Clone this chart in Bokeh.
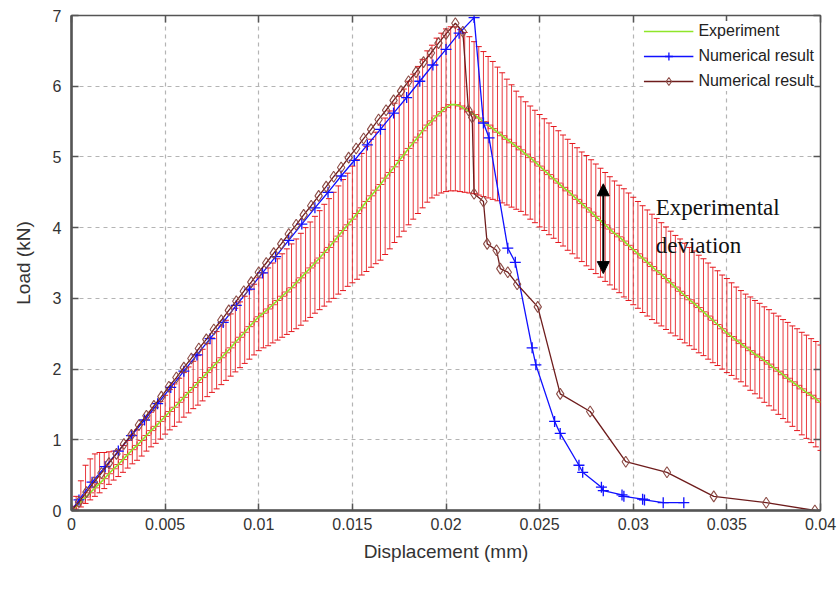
from bokeh.plotting import figure
from bokeh.models import (ColumnDataSource, Whisker, TeeHead, Arrow, NormalHead, Label,
                          LinearAxis, FixedTicker, Legend, LegendItem, Range1d)
from bokeh.embed import file_html
from bokeh.resources import INLINE

# ---------------- data ----------------
exp_x = [
    0.0, 0.00025, 0.0005, 0.00075, 0.001, 0.00125, 0.0015, 0.00175, 0.002, 0.00225,
    0.0025, 0.00275, 0.003, 0.00325, 0.0035, 0.00375, 0.004, 0.00425, 0.0045, 0.00475,
    0.005, 0.00525, 0.0055, 0.00575, 0.006, 0.00625, 0.0065, 0.00675, 0.007, 0.00725,
    0.0075, 0.00775, 0.008, 0.00825, 0.0085, 0.00875, 0.009, 0.00925, 0.0095, 0.00975,
    0.01, 0.01025, 0.0105, 0.01075, 0.011, 0.01125, 0.0115, 0.01175, 0.012, 0.01225,
    0.0125, 0.01275, 0.013, 0.01325, 0.0135, 0.01375, 0.014, 0.01425, 0.0145, 0.01475,
    0.015, 0.01525, 0.0155, 0.01575, 0.016, 0.01625, 0.0165, 0.01675, 0.017, 0.01725,
    0.0175, 0.01775, 0.018, 0.01825, 0.0185, 0.01875, 0.019, 0.01925, 0.0195, 0.01975,
    0.02, 0.02025, 0.0205, 0.02075, 0.021, 0.02125, 0.0215, 0.02175, 0.022, 0.02225,
    0.0225, 0.02275, 0.023, 0.02325, 0.0235, 0.02375, 0.024, 0.02425, 0.0245, 0.02475,
    0.025, 0.02525, 0.0255, 0.02575, 0.026, 0.02625, 0.0265, 0.02675, 0.027, 0.02725,
    0.0275, 0.02775, 0.028, 0.02825, 0.0285, 0.02875, 0.029, 0.02925, 0.0295, 0.02975,
    0.03, 0.03025, 0.0305, 0.03075, 0.031, 0.03125, 0.0315, 0.03175, 0.032, 0.03225,
    0.0325, 0.03275, 0.033, 0.03325, 0.0335, 0.03375, 0.034, 0.03425, 0.0345, 0.03475,
    0.035, 0.03525, 0.0355, 0.03575, 0.036, 0.03625, 0.0365, 0.03675, 0.037, 0.03725,
    0.0375, 0.03775, 0.038, 0.03825, 0.0385, 0.03875, 0.039, 0.03925, 0.0395, 0.03975,
    0.04,
]
exp_mean = [
    0.00, 0.06, 0.12, 0.19, 0.25, 0.32, 0.38, 0.45, 0.52, 0.59,
    0.65, 0.72, 0.79, 0.86, 0.92, 0.99, 1.06, 1.13, 1.19, 1.26,
    1.33, 1.40, 1.46, 1.53, 1.60, 1.67, 1.74, 1.81, 1.88, 1.95,
    2.02, 2.09, 2.16, 2.23, 2.30, 2.38, 2.45, 2.52, 2.60, 2.67,
    2.74, 2.79, 2.85, 2.91, 2.97, 3.03, 3.09, 3.15, 3.22, 3.29,
    3.36, 3.43, 3.50, 3.57, 3.65, 3.72, 3.80, 3.88, 3.96, 4.04,
    4.12, 4.20, 4.28, 4.37, 4.45, 4.53, 4.61, 4.70, 4.78, 4.86,
    4.95, 5.03, 5.12, 5.20, 5.28, 5.37, 5.45, 5.51, 5.58, 5.64,
    5.70, 5.74, 5.74, 5.72, 5.68, 5.64, 5.60, 5.55, 5.50, 5.45,
    5.40, 5.35, 5.30, 5.25, 5.20, 5.15, 5.10, 5.04, 4.99, 4.93,
    4.87, 4.81, 4.75, 4.69, 4.63, 4.57, 4.52, 4.46, 4.40, 4.34,
    4.28, 4.22, 4.16, 4.10, 4.04, 3.98, 3.92, 3.87, 3.81, 3.75,
    3.69, 3.63, 3.57, 3.51, 3.45, 3.39, 3.34, 3.28, 3.22, 3.16,
    3.10, 3.04, 2.98, 2.93, 2.87, 2.81, 2.75, 2.69, 2.63, 2.57,
    2.51, 2.46, 2.41, 2.36, 2.31, 2.26, 2.21, 2.17, 2.12, 2.07,
    2.02, 1.97, 1.92, 1.87, 1.82, 1.77, 1.72, 1.67, 1.63, 1.58,
    1.53,
]
exp_upper = [
    0.05, 0.20, 0.42, 0.64, 0.73, 0.80, 0.82, 0.82, 0.83, 0.84,
    0.85, 0.92, 0.99, 1.07, 1.14, 1.22, 1.31, 1.39, 1.46, 1.54,
    1.63, 1.71, 1.79, 1.87, 1.95, 2.03, 2.11, 2.19, 2.28, 2.36,
    2.44, 2.53, 2.61, 2.69, 2.78, 2.86, 2.95, 3.03, 3.12, 3.20,
    3.29, 3.36, 3.43, 3.50, 3.56, 3.63, 3.70, 3.77, 3.84, 3.92,
    4.00, 4.08, 4.16, 4.24, 4.33, 4.41, 4.50, 4.59, 4.68, 4.77,
    4.87, 4.96, 5.05, 5.15, 5.25, 5.35, 5.45, 5.55, 5.65, 5.76,
    5.86, 5.96, 6.07, 6.17, 6.28, 6.38, 6.50, 6.58, 6.68, 6.75,
    6.81, 6.84, 6.84, 6.80, 6.76, 6.70, 6.63, 6.56, 6.49, 6.42,
    6.35, 6.27, 6.19, 6.10, 6.02, 5.93, 5.85, 5.78, 5.72, 5.66,
    5.60, 5.54, 5.48, 5.43, 5.37, 5.31, 5.25, 5.19, 5.13, 5.07,
    5.02, 4.96, 4.90, 4.84, 4.78, 4.72, 4.66, 4.60, 4.55, 4.49,
    4.43, 4.37, 4.31, 4.25, 4.19, 4.13, 4.07, 4.01, 3.95, 3.89,
    3.84, 3.78, 3.72, 3.67, 3.61, 3.56, 3.50, 3.44, 3.39, 3.33,
    3.28, 3.22, 3.16, 3.11, 3.06, 3.02, 2.97, 2.93, 2.88, 2.84,
    2.79, 2.75, 2.70, 2.66, 2.61, 2.57, 2.52, 2.48, 2.43, 2.39,
    2.34,
]
exp_lower = [
    0.00, 0.02, 0.05, 0.10, 0.15, 0.20, 0.25, 0.31, 0.37, 0.43,
    0.48, 0.54, 0.60, 0.66, 0.71, 0.77, 0.84, 0.90, 0.95, 1.01,
    1.08, 1.14, 1.19, 1.25, 1.32, 1.38, 1.44, 1.49, 1.55, 1.61,
    1.67, 1.72, 1.78, 1.84, 1.90, 1.96, 2.02, 2.08, 2.14, 2.20,
    2.26, 2.30, 2.33, 2.37, 2.41, 2.45, 2.49, 2.53, 2.57, 2.62,
    2.68, 2.73, 2.79, 2.84, 2.89, 2.95, 3.00, 3.06, 3.11, 3.17,
    3.22, 3.27, 3.33, 3.38, 3.44, 3.49, 3.54, 3.62, 3.70, 3.79,
    3.87, 3.95, 4.04, 4.12, 4.20, 4.28, 4.36, 4.42, 4.46, 4.49,
    4.51, 4.52, 4.52, 4.51, 4.50, 4.49, 4.48, 4.46, 4.44, 4.42,
    4.40, 4.38, 4.35, 4.32, 4.29, 4.26, 4.23, 4.18, 4.12, 4.07,
    4.01, 3.96, 3.90, 3.85, 3.79, 3.74, 3.68, 3.63, 3.57, 3.52,
    3.46, 3.41, 3.35, 3.30, 3.24, 3.19, 3.13, 3.08, 3.02, 2.97,
    2.91, 2.86, 2.80, 2.75, 2.70, 2.65, 2.61, 2.56, 2.51, 2.47,
    2.42, 2.37, 2.33, 2.28, 2.23, 2.19, 2.14, 2.09, 2.05, 2.00,
    1.95, 1.91, 1.86, 1.82, 1.76, 1.70, 1.65, 1.59, 1.53, 1.48,
    1.42, 1.36, 1.30, 1.25, 1.19, 1.13, 1.07, 1.02, 0.96, 0.90,
    0.85,
]

num1_x = [
    0.0, 0.0004, 0.0011, 0.0018, 0.0025, 0.0032, 0.0039, 0.0046, 0.0053, 0.0060,
    0.0067, 0.0074, 0.0081, 0.0088, 0.0095, 0.0102, 0.0109, 0.0116, 0.0123, 0.0130,
    0.0137, 0.0144, 0.0151, 0.0158, 0.0165, 0.0172, 0.0179, 0.0186, 0.0193, 0.0200,
    0.0207, 0.0215, 0.0220, 0.0223, 0.0233, 0.0237, 0.0246, 0.0248, 0.0258, 0.0261,
    0.0271, 0.0273, 0.0283, 0.0284, 0.0294, 0.0295, 0.0305, 0.0306, 0.0316, 0.0327,
]
num1_y = [
    0.00, 0.15, 0.40, 0.62, 0.84, 1.06, 1.28, 1.51, 1.74, 1.97,
    2.20, 2.43, 2.66, 2.90, 3.13, 3.36, 3.59, 3.82, 4.05, 4.28,
    4.50, 4.73, 4.95, 5.17, 5.39, 5.62, 5.84, 6.07, 6.30, 6.52,
    6.75, 6.97, 5.48, 5.27, 3.71, 3.51, 2.30, 2.06, 1.26, 1.09,
    0.64, 0.54, 0.33, 0.28, 0.22, 0.20, 0.16, 0.15, 0.11, 0.11,
]

num2_x = [
    0.0, 0.0004, 0.0008, 0.0012, 0.0016, 0.0020, 0.0024, 0.0028, 0.0032, 0.0036,
    0.0040, 0.0044, 0.0048, 0.0052, 0.0056, 0.0060, 0.0064, 0.0068, 0.0072, 0.0076,
    0.0080, 0.0084, 0.0088, 0.0092, 0.0096, 0.0100, 0.0104, 0.0108, 0.0112, 0.0116,
    0.0120, 0.0124, 0.0128, 0.0132, 0.0136, 0.0140, 0.0144, 0.0148, 0.0152, 0.0156,
    0.0160, 0.0164, 0.0168, 0.0172, 0.0176, 0.0180, 0.0184, 0.0188, 0.0192, 0.0196,
    0.0200, 0.0205, 0.0209, 0.0212, 0.0214, 0.0215, 0.0220, 0.0222, 0.0227, 0.0229,
    0.0233, 0.0238, 0.0249, 0.0261, 0.0277, 0.0296, 0.0318, 0.0343, 0.0371, 0.0397,
]
num2_y = [
    0.00, 0.12, 0.26, 0.40, 0.53, 0.67, 0.80, 0.94, 1.07, 1.21,
    1.34, 1.48, 1.61, 1.75, 1.88, 2.02, 2.15, 2.29, 2.42, 2.56,
    2.69, 2.83, 2.96, 3.10, 3.23, 3.37, 3.50, 3.64, 3.77, 3.91,
    4.04, 4.18, 4.31, 4.45, 4.58, 4.72, 4.85, 4.99, 5.12, 5.26,
    5.39, 5.53, 5.66, 5.80, 5.93, 6.07, 6.20, 6.34, 6.47, 6.61,
    6.74, 6.89, 6.77, 5.66, 5.56, 4.48, 4.37, 3.77, 3.68, 3.42,
    3.37, 3.20, 2.88, 1.65, 1.40, 0.69, 0.54, 0.20, 0.11, 0.00,
]

x_ticks = [0.0, 0.005, 0.01, 0.015, 0.02, 0.025, 0.03, 0.035, 0.04]
x_tick_labels = ["0", "0.005", "0.01", "0.015", "0.02", "0.025", "0.03", "0.035", "0.04"]
y_ticks = [0, 1, 2, 3, 4, 5, 6, 7]

arrow_x = 0.0284
arrow_bottom = 3.35
arrow_top = 4.62
note_lines = ["Experimental", "deviation"]
note_x = 0.0312
note_y = [4.28, 3.75]

# ---------------- figure ----------------
FONT = "Liberation Sans"
AXIS_COL = "#555555"
TXT_COL = "#333333"

p = figure(width=838, height=590, output_backend="svg", toolbar_location=None,
           x_range=Range1d(0, 0.04), y_range=Range1d(0, 7),
           min_border_left=71, min_border_right=18, min_border_top=15,
           min_border_bottom=80)
p.background_fill_color = "white"
p.border_fill_color = "white"
p.outline_line_color = AXIS_COL
p.outline_line_width = 1.5

p.xaxis.ticker = FixedTicker(ticks=x_ticks)
p.yaxis.ticker = FixedTicker(ticks=y_ticks)
p.xaxis.major_label_overrides = {t: s for t, s in zip(x_ticks, x_tick_labels)}

for ax in (p.xaxis[0], p.yaxis[0]):
    ax.axis_line_color = AXIS_COL
    ax.axis_line_width = 2.5
    ax.major_tick_in = 7
    ax.major_tick_out = 0
    ax.major_tick_line_color = AXIS_COL
    ax.major_tick_line_width = 1.5
    ax.minor_tick_line_color = None
    ax.major_label_text_font = FONT
    ax.major_label_text_font_size = "16px"
    ax.major_label_text_color = TXT_COL
    ax.axis_label_text_font = FONT
    ax.axis_label_text_font_size = "19px"
    ax.axis_label_text_font_style = "normal"
    ax.axis_label_text_color = TXT_COL

p.xaxis.axis_label = "Displacement (mm)"
p.yaxis.axis_label = "Load (kN)"
p.xaxis.major_label_standoff = 7
p.yaxis.major_label_standoff = 10
p.xaxis.axis_label_standoff = 8
p.yaxis.axis_label_standoff = 16

# mirrored inward ticks on the top and right borders (labels not drawn)
top_ax = LinearAxis(ticker=FixedTicker(ticks=x_ticks), axis_line_color=None,
                    major_tick_in=7, major_tick_out=0, major_tick_line_color=AXIS_COL,
                    major_tick_line_width=1.5, minor_tick_line_color=None,
                    major_label_text_color=None, major_label_text_font_size="1px",
                    major_label_standoff=0)
right_ax = LinearAxis(ticker=FixedTicker(ticks=y_ticks), axis_line_color=None,
                      major_tick_in=7, major_tick_out=0, major_tick_line_color=AXIS_COL,
                      major_tick_line_width=1.5, minor_tick_line_color=None,
                      major_label_text_color=None, major_label_text_font_size="1px",
                      major_label_standoff=0)
p.add_layout(top_ax, "above")
p.add_layout(right_ax, "right")

p.xgrid.ticker = FixedTicker(ticks=x_ticks)
p.ygrid.ticker = FixedTicker(ticks=y_ticks)
for g in (p.xgrid[0], p.ygrid[0]):
    g.grid_line_color = "#b4b4b4"
    g.grid_line_dash = "4 4"
    g.grid_line_width = 1.2

# ---------------- experiment ----------------
RED = "#e5161c"
src = ColumnDataSource(dict(x=exp_x, mean=exp_mean, upper=exp_upper, lower=exp_lower))
wh = Whisker(source=src, base="x", upper="upper", lower="lower",
             line_color=RED, line_width=1, line_alpha=0.85,
             upper_head=TeeHead(size=6, line_color=RED, line_width=1),
             lower_head=TeeHead(size=6, line_color=RED, line_width=1))
p.add_layout(wh)
p.scatter("x", "mean", source=src, marker="cross", size=8, line_color=RED,
          line_width=1, line_alpha=0.85)
exp_line = p.line("x", "mean", source=src, line_color="#8fe62a", line_width=1.6)

# ---------------- numerical results ----------------
BLUE = "#1010ff"
n1 = ColumnDataSource(dict(x=num1_x, y=num1_y))
n1_line = p.line("x", "y", source=n1, line_color=BLUE, line_width=1.3)
n1_pts = p.scatter("x", "y", source=n1, marker="cross", size=11, line_color=BLUE,
                   line_width=1.3)

BROWN = "#6e1c1c"
n2 = ColumnDataSource(dict(x=num2_x, y=num2_y))
n2_line = p.line("x", "y", source=n2, line_color=BROWN, line_width=1.3)
n2_pts = p.scatter("x", "y", source=n2, marker="diamond", size=11, fill_color=None,
                   line_color="#8c4c46", line_width=1.1)

# ---------------- annotation ----------------
p.add_layout(Arrow(start=NormalHead(size=12, fill_color="black", line_color="black"),
                   end=NormalHead(size=12, fill_color="black", line_color="black"),
                   x_start=arrow_x, y_start=arrow_bottom, x_end=arrow_x, y_end=arrow_top,
                   line_color="black", line_width=2))
for txt, yy in zip(note_lines, note_y):
    p.add_layout(Label(x=note_x, y=yy, text=txt, text_font="Liberation Serif",
                       text_font_size="23px", text_color="#111111",
                       text_baseline="middle", text_align="left"))

# ---------------- legend ----------------
legend = Legend(items=[
    LegendItem(label="Experiment", renderers=[exp_line]),
    LegendItem(label="Numerical result", renderers=[n1_line, n1_pts]),
    LegendItem(label="Numerical result", renderers=[n2_line, n2_pts]),
], location="top_right")
legend.label_text_font = FONT
legend.label_text_font_size = "16px"
legend.label_text_color = "#222222"
legend.glyph_width = 50
legend.spacing = 5
legend.padding = 6
legend.margin = 6
legend.border_line_color = None
legend.background_fill_color = "white"
legend.background_fill_alpha = 1.0
p.add_layout(legend)

open("out.html", "w").write(file_html(p, INLINE))
